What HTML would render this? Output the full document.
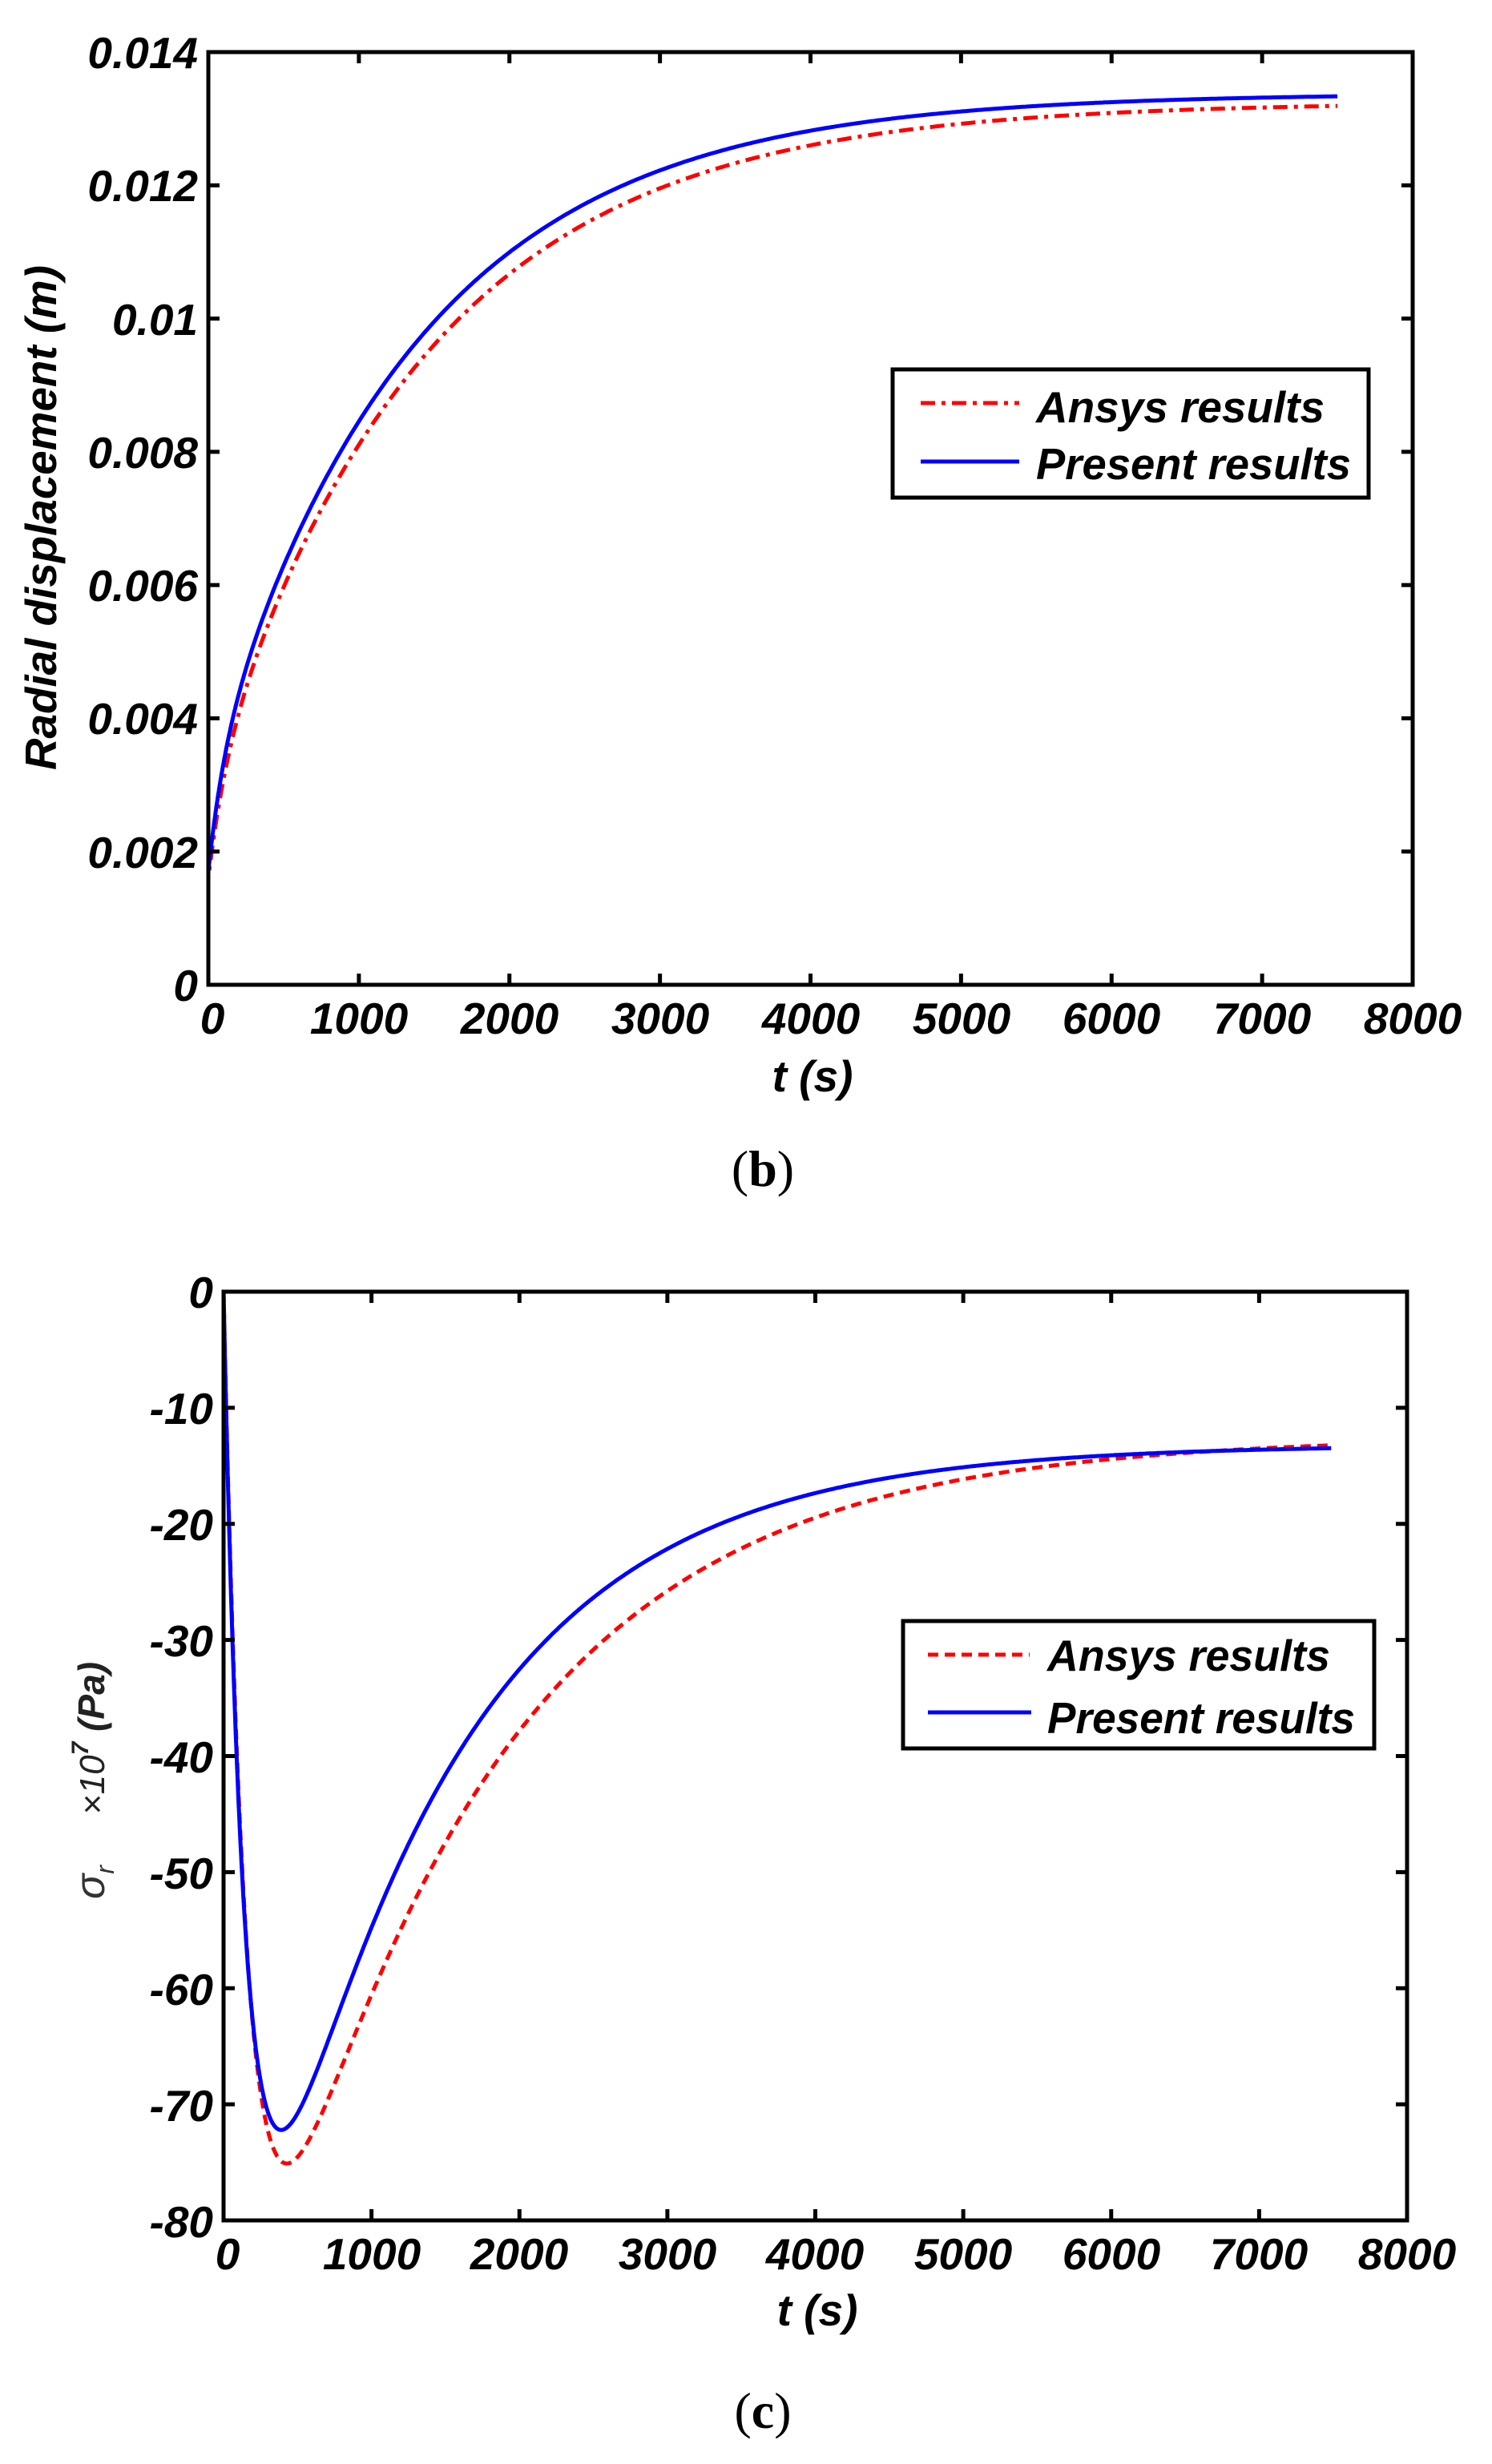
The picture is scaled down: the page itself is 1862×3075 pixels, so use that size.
<!DOCTYPE html>
<html><head><meta charset="utf-8"><style>
html,body{margin:0;padding:0;background:#fff;width:1862px;height:3075px;overflow:hidden}
svg{display:block}
.t{font-family:"Liberation Sans",sans-serif;font-weight:bold;font-style:italic;font-size:55px;fill:#000}
.cap{font-family:"Liberation Serif",serif;font-size:64px;fill:#000}
</style></head><body>
<svg id="s" width="1862" height="3075" viewBox="0 0 1862 3075" xmlns="http://www.w3.org/2000/svg">
<g id="g"></g>
<g class="t" text-anchor="end">
<text x="247" y="85">0.014</text>
<text x="247" y="251">0.012</text>
<text x="247" y="418">0.01</text>
<text x="247" y="584">0.008</text>
<text x="247" y="750">0.006</text>
<text x="247" y="916">0.004</text>
<text x="247" y="1083">0.002</text>
<text x="247" y="1249">0</text>
</g>
<g class="t" text-anchor="middle">
<text x="265" y="1290">0</text>
<text x="448" y="1290">1000</text>
<text x="636" y="1290">2000</text>
<text x="824" y="1290">3000</text>
<text x="1012" y="1290">4000</text>
<text x="1200" y="1290">5000</text>
<text x="1387" y="1290">6000</text>
<text x="1575" y="1290">7000</text>
<text x="1763" y="1290">8000</text>
<text x="1014" y="1362">t (s)</text>
</g>
<text class="t" font-size="48" text-anchor="middle" transform="translate(70,646) rotate(-90)" textLength="630" lengthAdjust="spacingAndGlyphs">Radial displacement (m)</text>
<text class="cap" x="952" y="1480" text-anchor="middle">(<tspan font-weight="bold">b</tspan>)</text>
<rect x="1114" y="461" width="594" height="160" fill="#fff" stroke="#000" stroke-width="5"/>
<line x1="1149" y1="503" x2="1272" y2="503" stroke="#f00" stroke-width="5" stroke-dasharray="18,8,5,8"/>
<line x1="1149" y1="576" x2="1272" y2="576" stroke="#00f" stroke-width="5"/>
<text class="t" x="1293" y="527" textLength="360" lengthAdjust="spacingAndGlyphs">Ansys results</text>
<text class="t" x="1293" y="598" textLength="393" lengthAdjust="spacingAndGlyphs">Present results</text>

<g class="t" text-anchor="end">
<text x="266" y="1632">0</text>
<text x="266" y="1777">-10</text>
<text x="266" y="1922">-20</text>
<text x="266" y="2067">-30</text>
<text x="266" y="2212">-40</text>
<text x="266" y="2357">-50</text>
<text x="266" y="2502">-60</text>
<text x="266" y="2647">-70</text>
<text x="266" y="2792">-80</text>
</g>
<g class="t" text-anchor="middle">
<text x="284" y="2832">0</text>
<text x="464" y="2832">1000</text>
<text x="648" y="2832">2000</text>
<text x="833" y="2832">3000</text>
<text x="1017" y="2832">4000</text>
<text x="1202" y="2832">5000</text>
<text x="1387" y="2832">6000</text>
<text x="1571" y="2832">7000</text>
<text x="1756" y="2832">8000</text>
<text x="1020" y="2902">t (s)</text>
</g>
<g transform="translate(130,2200) rotate(-90)" font-family="Liberation Sans,sans-serif" font-style="italic">
<text x="-170" y="0" font-size="52" fill="#333">σ<tspan font-size="32" dy="12">r</tspan></text>
<text x="-65" y="0" font-size="44" fill="#222">×10<tspan font-size="30" dy="-20" font-weight="bold">7</tspan><tspan dy="20" font-weight="bold" font-size="46"> (Pa)</tspan></text>
</g>
<text class="cap" x="952" y="3030" text-anchor="middle">(<tspan font-weight="bold">c</tspan>)</text>
<rect x="1127" y="2023" width="588" height="159" fill="#fff" stroke="#000" stroke-width="5"/>
<line x1="1158" y1="2065" x2="1285" y2="2065" stroke="#f00" stroke-width="5" stroke-dasharray="13,8"/>
<line x1="1158" y1="2137" x2="1287" y2="2137" stroke="#00f" stroke-width="5"/>
<text class="t" x="1307" y="2085" textLength="353" lengthAdjust="spacingAndGlyphs">Ansys results</text>
<text class="t" x="1307" y="2163" textLength="384" lengthAdjust="spacingAndGlyphs">Present results</text>
</svg>
<script>
var g=document.getElementById('g'),NS='http://www.w3.org/2000/svg';
function el(n,a){var e=document.createElementNS(NS,n);for(var k in a)e.setAttribute(k,a[k]);g.appendChild(e);return e;}
function axes(L,T,R,B,xt,yt){
  el('rect',{x:L,y:T,width:R-L,height:B-T,fill:'none',stroke:'#000','stroke-width':5});
  xt.forEach(function(x){el('line',{x1:x,y1:B,x2:x,y2:B-14,stroke:'#000','stroke-width':5});el('line',{x1:x,y1:T,x2:x,y2:T+14,stroke:'#000','stroke-width':5});});
  yt.forEach(function(y){el('line',{x1:L,y1:y,x2:L+14,y2:y,stroke:'#000','stroke-width':5});el('line',{x1:R,y1:y,x2:R-14,y2:y,stroke:'#000','stroke-width':5});});
}
var bL=260,bT=65,bR=1763,bB=1229;
var xt=[],yt=[];for(var i=1;i<8;i++){xt.push(bL+i*(bR-bL)/8);}for(i=1;i<7;i++)yt.push(bT+i*(bB-bT)/7);
function bx(t){return bL+t*(bR-bL)/8000;}function by(v){return bB-v*(bB-bT)/0.014;}
function path(f,X,Y){var d='M'+X(0)+','+Y(0);for(var t=0;t<=7500;t+=(t<300?3:15)){d+=' L'+X(t).toFixed(1)+','+Y(f(t)).toFixed(1);}return d;}
el('path',{d:path(function(t){return 0.01325-(0.01325-0.0016)*(0.88*Math.exp(-t/1450)+0.12*Math.exp(-t/120));},bx,by),fill:'none',stroke:'#f00','stroke-width':5,'stroke-dasharray':'18,8,5,8'});
el('path',{d:path(function(t){return 0.01338-(0.01338-0.0017)*(0.87*Math.exp(-t/1380)+0.13*Math.exp(-t/110));},bx,by),fill:'none',stroke:'#00f','stroke-width':5});
axes(bL,bT,bR,bB,xt,yt);
var cL=279,cT=1612,cR=1756,cB=2771;
xt=[];yt=[];for(i=1;i<8;i++)xt.push(cL+i*(cR-cL)/8);for(i=1;i<8;i++)yt.push(cT+i*(cB-cT)/8);
function cx(t){return cL+t*(cR-cL)/8000;}function cy(v){return cT-v*(cB-cT)/80;}
function pc(f){var d='M'+cx(0)+','+cy(0);for(var t=2;t<=7500;t+=(t<600?4:15)){d+=' L'+cx(t).toFixed(1)+','+cy(f(t)).toFixed(1);}return d;}
el('path',{d:pc(function(t){return -12.5*(1-Math.exp(-t/160))-92*(Math.exp(-t/1550)-Math.exp(-t/160));}),fill:'none',stroke:'#f00','stroke-width':5,'stroke-dasharray':'13,8'});
el('path',{d:pc(function(t){return -13.2*(1-Math.exp(-t/150))-90*(Math.exp(-t/1300)-Math.exp(-t/150));}),fill:'none',stroke:'#00f','stroke-width':5});
axes(cL,cT,cR,cB,xt,yt);
</script>
</body></html>
